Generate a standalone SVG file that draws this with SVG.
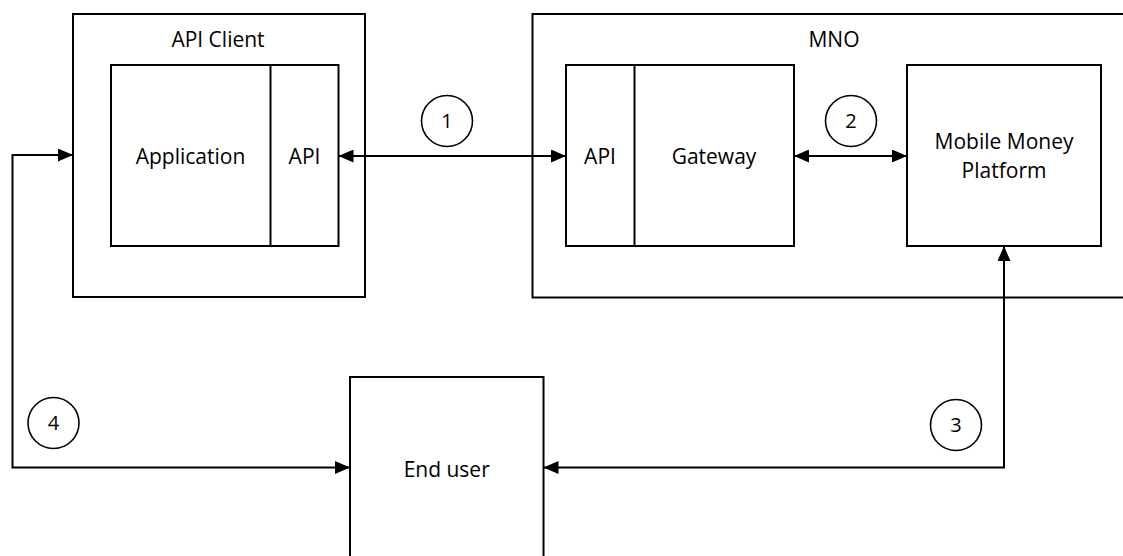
<svg xmlns="http://www.w3.org/2000/svg" width="1123" height="556" viewBox="0 0 1123 556">
  <style>
    .box { fill: #ffffff; stroke: #000000; stroke-width: 2; }
    .div { stroke: #000000; stroke-width: 2; }
    .lbl { font-family: "Open Sans", "Liberation Sans", sans-serif; font-size: 21px; fill: #000000; text-anchor: middle; }
    .num { font-family: "Open Sans", "Liberation Sans", sans-serif; font-size: 20px; fill: #000000; text-anchor: middle; }
    .conn { fill: none; stroke: #000000; stroke-width: 2; marker-start: url(#arrow); marker-end: url(#arrow); }
    .badge { fill: #ffffff; stroke: #000000; stroke-width: 1.6; }
  </style>
  <defs>
    <marker id="arrow" markerUnits="userSpaceOnUse" markerWidth="15" markerHeight="13" refX="15" refY="6.5" orient="auto-start-reverse" viewBox="0 0 15 13">
      <path d="M0,0 L15,6.5 L0,13 z" fill="#000000"/>
    </marker>
  </defs>
  <rect width="1123" height="556" fill="#ffffff"/>

  <g id="api-client">
    <rect class="box" x="73" y="14" width="292" height="283"/>
    <text class="lbl" x="218" y="47">API Client</text>
  </g>
  <g id="application">
    <rect class="box" x="111" y="65" width="227.5" height="181"/>
    <line class="div" x1="270.5" y1="65" x2="270.5" y2="246"/>
    <text class="lbl" x="190.5" y="164">Application</text>
    <text class="lbl" x="304.5" y="164">API</text>
  </g>

  <g id="mno">
    <rect class="box" x="532.5" y="14" width="610" height="283.5"/>
    <text class="lbl" x="834" y="47">MNO</text>
  </g>
  <g id="gateway">
    <rect class="box" x="566" y="65" width="228" height="181"/>
    <line class="div" x1="634.5" y1="65" x2="634.5" y2="246"/>
    <text class="lbl" x="600" y="164">API</text>
    <text class="lbl" x="714" y="164">Gateway</text>
  </g>
  <g id="mobile-money-platform">
    <rect class="box" x="907" y="65" width="194" height="181"/>
    <text class="lbl" x="1004" y="149">Mobile Money</text>
    <text class="lbl" x="1004" y="178">Platform</text>
  </g>

  <g id="end-user">
    <rect class="box" x="350" y="377" width="193.5" height="200"/>
    <text class="lbl" x="446.7" y="477">End user</text>
  </g>

  <g id="connectors">
    <line class="conn" x1="338.5" y1="156" x2="566" y2="156"/>
    <line class="conn" x1="794" y1="156" x2="907" y2="156"/>
    <path class="conn" d="M543.5,467.5 H1004 V246"/>
    <path class="conn" d="M73,155 H12.5 V467.5 H350"/>
  </g>

  <g id="step-1">
    <circle class="badge" cx="447" cy="121" r="25.5"/>
    <text class="num" x="447" y="128">1</text>
  </g>
  <g id="step-2">
    <circle class="badge" cx="851" cy="121" r="25.5"/>
    <text class="num" x="851" y="128">2</text>
  </g>
  <g id="step-3">
    <circle class="badge" cx="956" cy="425" r="25.5"/>
    <text class="num" x="956" y="432">3</text>
  </g>
  <g id="step-4">
    <circle class="badge" cx="53.5" cy="423" r="25.5"/>
    <text class="num" x="53.5" y="430">4</text>
  </g>
</svg>
